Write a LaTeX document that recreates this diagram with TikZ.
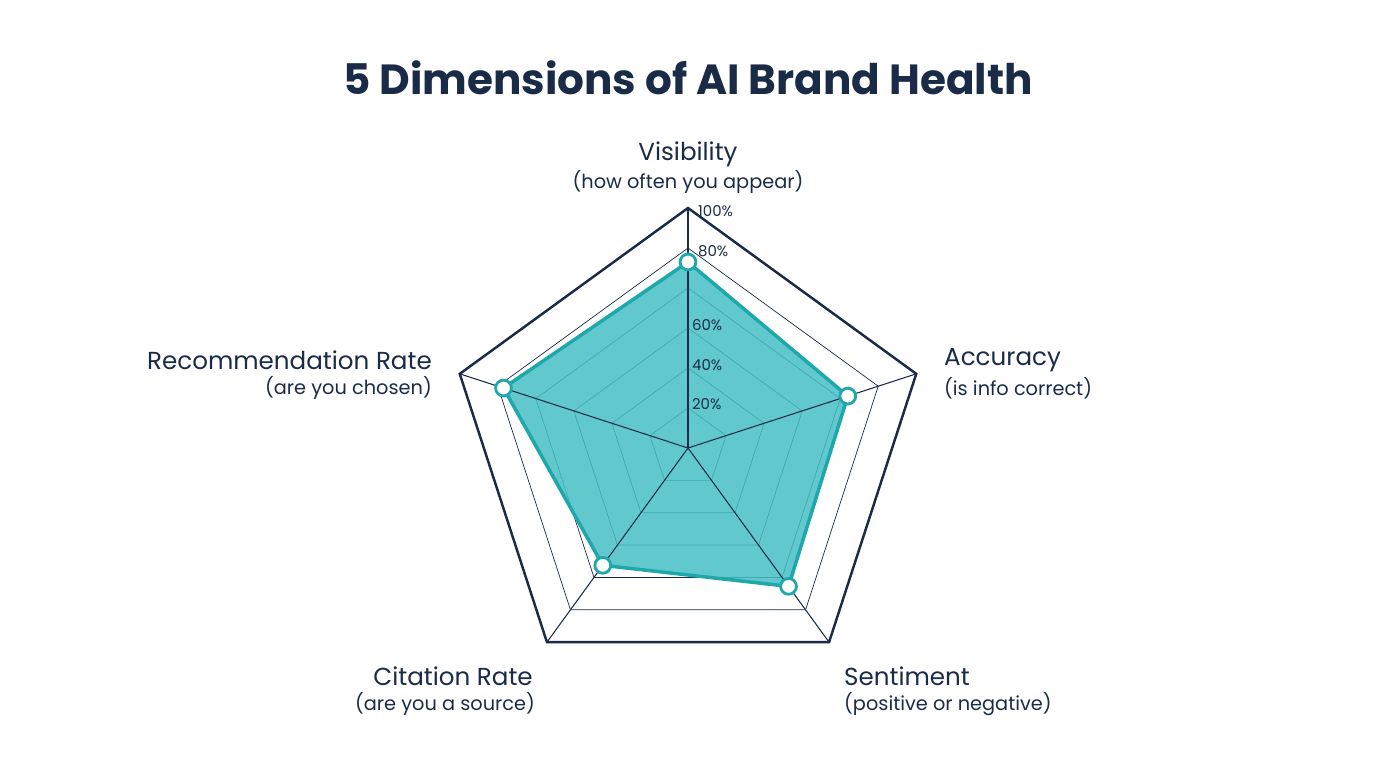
\documentclass[tikz,border=0pt]{standalone}
\usepackage{fontspec}
\setmainfont{Poppins}
\usetikzlibrary{positioning,calc}
\definecolor{navy}{HTML}{1A2B48}
\definecolor{teal}{HTML}{1FA8AC}
\definecolor{tealfill}{HTML}{45C0C4}
\begin{document}
\begin{tikzpicture}[x=0.02cm,y=-0.02cm,
  ring/.style={draw=navy,line width=0.4pt},
  spoke/.style={draw=navy,line width=0.6pt},
  dot/.style={circle,draw=teal,fill=white,line width=1.6pt,inner sep=0pt,minimum size=9pt},
  axlabel/.style={text=navy,font=\fontsize{14}{17}\selectfont,align=center},
  sublabel/.style={text=navy,font=\fontsize{11}{13}\selectfont},
  pct/.style={text=navy,font=\fontsize{8.5}{10}\selectfont,anchor=west,inner sep=1pt}]
  \useasboundingbox (0,0) rectangle (1376,768);
  \node[text=navy,font=\bfseries\fontsize{24}{28}\selectfont] (title) at (688,78) {5 Dimensions of AI Brand Health};
  \coordinate (c) at (688,448);
  % rings (angles negated since y points down)
  \foreach \k in {1,...,5}
    \draw[ring] ($(c)+(-90:{\k*40})$) \foreach \a in {-18,54,126,-162} { -- ($(c)+(\a:{\k*40})$) } -- cycle;
  \draw[ring,line width=1.4pt] ($(c)+(-90:240)$) \foreach \a in {-18,54,126,-162} { -- ($(c)+(\a:240)$) } -- cycle;
  % data
  \coordinate (vis) at ($(c)+(-90:186)$);
  \coordinate (acc) at ($(c)+(-18:168)$);
  \coordinate (sen) at ($(c)+(54:171)$);
  \coordinate (cit) at ($(c)+(126:145)$);
  \coordinate (rec) at ($(c)+(-162:194)$);
  \fill[tealfill,opacity=0.85] (vis)--(acc)--(sen)--(cit)--(rec)--cycle;
  \foreach \a in {-90,-18,54,126,-162}
    \draw[spoke] (c) -- ($(c)+(\a:240)$);
  \draw[teal,line width=2pt,line join=round] (vis)--(acc)--(sen)--(cit)--(rec)--cycle;
  \foreach \p in {vis,acc,sen,cit,rec}
    \node[dot] at (\p) {};
  % scale
  \node[pct] at (690,404) {20\%};
  \node[pct] at (690,365) {40\%};
  \node[pct] at (690,325) {60\%};
  \node[pct] at (696,251) {80\%};
  \node[pct] at (696,211) {100\%};
  % labels
  \node[axlabel] (lvis) at (688,154) {Visibility};
  \node[sublabel] at (688,182) {(how often you appear)};
  \node[axlabel,anchor=west] (lacc) at (938,360) {Accuracy};
  \node[sublabel,anchor=west] at (938,388) {(is info correct)};
  \node[axlabel,anchor=west] (lsen) at (838,676) {Sentiment};
  \node[sublabel,anchor=west] at (838,704) {(positive or negative)};
  \node[axlabel] (lcit) at (453,676) {Citation Rate};
  \node[sublabel] at (445,704) {(are you a source)};
  \node[axlabel,anchor=east] (lrec) at (438,360) {Recommendation Rate};
  \node[sublabel,anchor=east] at (438,388) {(are you chosen)};
\end{tikzpicture}
\end{document}
